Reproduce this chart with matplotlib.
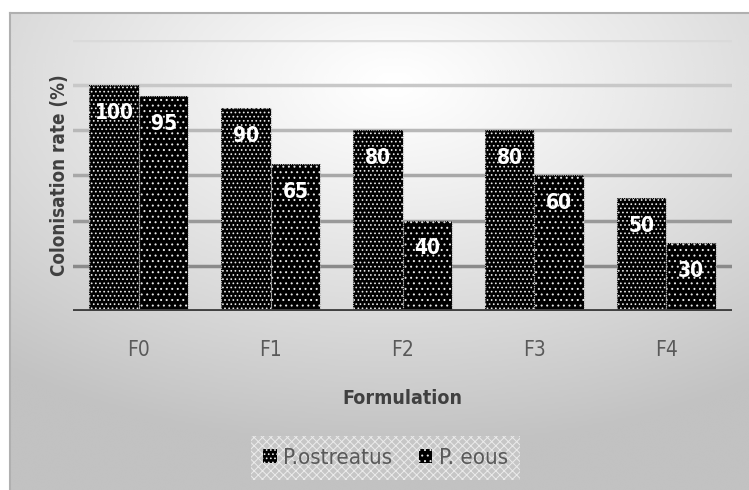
import numpy as np
import matplotlib
matplotlib.use("Agg")
import matplotlib.pyplot as plt

formulations = ["F0", "F1", "F2", "F3", "F4"]
ostreatus = [100, 90, 80, 80, 50]
eous = [95, 65, 40, 60, 30]
series_names = ["P.ostreatus", "P. eous"]

plt.rcParams['font.family'] = ['DejaVu Sans']
plt.rcParams['font.stretch'] = 'condensed'
plt.rcParams['hatch.linewidth'] = 0.7

fig = plt.figure(figsize=(7.49, 4.90), dpi=100)

# grey chart frame with a light radial gradient
bg = fig.add_axes([10/749, 0, 739/749, 477/490], zorder=0)
yy, xx = np.mgrid[0:1:200j, 0:1:300j]
dist = np.sqrt(((xx - 0.52) / 1.0) ** 2 + ((yy - 0.15) / 0.9) ** 2)
shade = 1.0 - 0.24 * np.clip(dist / 0.85, 0, 1) ** 1.1
bg.imshow(shade, cmap='gray', vmin=0, vmax=1, aspect='auto',
          extent=[0, 1, 1, 0], interpolation='bicubic')
bg.set_xlim(0, 1)
bg.set_ylim(1, 0)
for s in ['right', 'bottom']:
    bg.spines[s].set_visible(False)
for s in ['top', 'left']:
    bg.spines[s].set_color('#b0b0b0')
    bg.spines[s].set_linewidth(1.5)
bg.set_xticks([])
bg.set_yticks([])

ax = fig.add_axes([73/749, 1 - 311/490, 659/749, 271/490], zorder=1)
ax.patch.set_alpha(0)

x = np.arange(len(formulations))
w = 0.375
b1 = ax.bar(x - w/2, ostreatus, w, color='black', edgecolor='#e8e8e8',
            hatch='....', linewidth=0, zorder=3, label=series_names[0])
b2 = ax.bar(x + w/2, eous, w, color='black', edgecolor='#e8e8e8',
            hatch='...', linewidth=0, zorder=3, label=series_names[1])
for bars in (b1, b2):
    for r in bars:
        ax.add_patch(plt.Rectangle((r.get_x(), 0), r.get_width(), r.get_height(),
                                   fill=False, edgecolor='#b0b0b0', linewidth=0.8,
                                   linestyle=(0, (1, 1)), zorder=4))

for bars, vals in ((b1, ostreatus), (b2, eous)):
    for r, v in zip(bars, vals):
        ax.annotate(str(v), (r.get_x() + r.get_width()/2, v),
                    xytext=(0, -20), textcoords='offset points',
                    ha='center', va='center', color='white',
                    fontsize=15, fontweight='bold', zorder=5)

# gridlines get darker toward the baseline
grid_cols = {20: '#8a8a8a', 40: '#999999', 60: '#a8a8a8', 80: '#b8b8b8',
             100: '#c8c8c8', 120: '#dadada'}
for yv, c in grid_cols.items():
    ax.axhline(yv, color=c, linewidth=2.5, zorder=1)
ax.axhline(0, color='#404040', linewidth=3.5, zorder=4)

ax.set_ylim(0, 120)
ax.set_xlim(-0.5, 4.5)
ax.set_yticks([])
ax.set_xticks(x)
ax.set_xticklabels(formulations, fontsize=15, color='#595959')
ax.tick_params(axis='x', length=0, pad=21)
for s in ax.spines.values():
    s.set_visible(False)

ax.set_xlabel("Formulation", fontsize=14, fontweight='bold', color='#404040', labelpad=21)
ax.set_ylabel("Colonisation rate (%)", fontsize=13.5, fontweight='bold', color='#404040', labelpad=3)

leg = fig.legend(loc='center', bbox_to_anchor=(0.515, 0.065), ncol=2,
                 fontsize=16, frameon=True, fancybox=False, handlelength=0.6,
                 handleheight=0.6, columnspacing=1.2, handletextpad=0.3,
                 borderpad=0.55)
fr = leg.get_frame()
fr.set_facecolor('#c8c8c8')
fr.set_edgecolor('#f4f4f4')
fr.set_hatch('xxxx')
fr.set_linewidth(0)
for t in leg.get_texts():
    t.set_color('#595959')

fig.savefig('out.png', dpi=100)
